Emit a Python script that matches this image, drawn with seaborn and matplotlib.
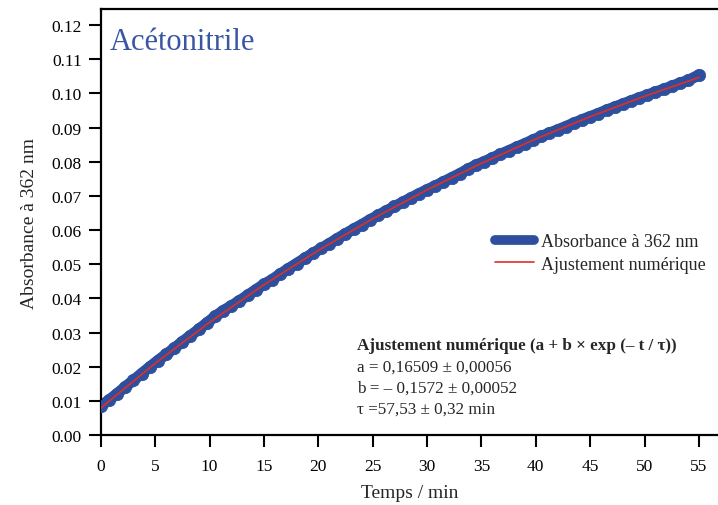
import matplotlib
matplotlib.use("Agg")
import matplotlib.pyplot as plt
from matplotlib.lines import Line2D
import seaborn as sns
import pandas as pd

# Measured absorbance (points)
time_min = [0.0, 0.75, 1.5, 2.25, 3.0, 3.75, 4.5, 5.25, 6.0, 6.75, 7.5, 8.25, 9.0, 9.75,
            10.5, 11.25, 12.0, 12.75, 13.5, 14.25, 15.0, 15.75, 16.5, 17.25, 18.0, 18.75,
            19.5, 20.25, 21.0, 21.75, 22.5, 23.25, 24.0, 24.75, 25.5, 26.25, 27.0, 27.75,
            28.5, 29.25, 30.0, 30.75, 31.5, 32.25, 33.0, 33.75, 34.5, 35.25, 36.0, 36.75,
            37.5, 38.25, 39.0, 39.75, 40.5, 41.25, 42.0, 42.75, 43.5, 44.25, 45.0, 45.75,
            46.5, 47.25, 48.0, 48.75, 49.5, 50.25, 51.0, 51.75, 52.5, 53.25, 54.0, 55.0]
absorbance = [0.0085, 0.0102, 0.0121, 0.0141, 0.0160, 0.0180, 0.0199, 0.0218, 0.0236, 0.0254,
              0.0273, 0.0291, 0.0309, 0.0328, 0.0347, 0.0364, 0.0378, 0.0393, 0.0409, 0.0425,
              0.0441, 0.0455, 0.0471, 0.0487, 0.0502, 0.0517, 0.0532, 0.0546, 0.0560, 0.0575,
              0.0589, 0.0603, 0.0616, 0.0630, 0.0643, 0.0656, 0.0669, 0.0681, 0.0694, 0.0706,
              0.0718, 0.0729, 0.0741, 0.0753, 0.0765, 0.0778, 0.0790, 0.0800, 0.0811, 0.0822,
              0.0832, 0.0843, 0.0853, 0.0864, 0.0874, 0.0884, 0.0893, 0.0903, 0.0913, 0.0923,
              0.0932, 0.0941, 0.0951, 0.0960, 0.0969, 0.0978, 0.0987, 0.0995, 0.1004, 0.1012,
              0.1021, 0.1030, 0.1038, 0.1054]

# Numerical fit (red line)
fit_time = [0, 5, 10, 15, 20, 25, 30, 35, 40, 45, 50, 55]
fit_values = [0.00789, 0.02097, 0.03297, 0.04397, 0.05405, 0.06329, 0.07177, 0.07954,
              0.08666, 0.09319, 0.09917, 0.10466]

x_ticks = [0, 5, 10, 15, 20, 25, 30, 35, 40, 45, 50, 55]
y_ticks = [0.00, 0.01, 0.02, 0.03, 0.04, 0.05, 0.06, 0.07, 0.08, 0.09, 0.10, 0.11, 0.12]

BLUE = "#2D4F9E"
RED = "#D9302C"
TITLE_BLUE = "#3A55A4"

sns.set_theme(style="ticks")
plt.rcParams["font.family"] = ["Liberation Serif", "DejaVu Serif"]

fig = plt.figure(figsize=(7.18, 5.06), dpi=100)
ax = fig.add_axes([0.1403, 0.1383, 0.8597, 0.8419])

df_pts = pd.DataFrame({"t": time_min, "A": absorbance})
df_fit = pd.DataFrame({"t": fit_time, "A": fit_values})

sns.scatterplot(data=df_pts, x="t", y="A", ax=ax, s=80, color=BLUE,
                edgecolor=BLUE, linewidth=0.5, zorder=3, legend=False)
sns.lineplot(data=df_pts, x="t", y="A", ax=ax, color=BLUE, linewidth=8,
             zorder=2, legend=False)
sns.lineplot(data=df_fit, x="t", y="A", ax=ax, color=RED, linewidth=1.3,
             zorder=4, legend=False)

ax.set_xlim(0, 56.75)
ax.set_ylim(0, 0.1247)
ax.set_xticks(x_ticks)
ax.set_xticklabels([str(v) for v in x_ticks])
ax.set_yticks(y_ticks)
ax.set_yticklabels([f"{v:.2f}" for v in y_ticks])
ax.tick_params(axis="both", direction="out", length=8.5, width=1.5, labelsize=12.5,
               colors="black")
ax.tick_params(axis="x", pad=8)
ax.tick_params(axis="y", pad=5)
for side in ["left", "bottom", "top"]:
    ax.spines[side].set_linewidth(1.6)
    ax.spines[side].set_color("black")
ax.spines["right"].set_visible(False)

ax.set_xlabel("Temps / min", fontsize=14, labelpad=7)
ax.set_ylabel("Absorbance à 362 nm", fontsize=14, labelpad=10)

ax.text(0.015, 0.958, "Acétonitrile", transform=ax.transAxes, fontsize=22,
        color=TITLE_BLUE, ha="left", va="top")

handles = [Line2D([0], [0], color=BLUE, lw=7, solid_capstyle="round"),
           Line2D([0], [0], color=RED, lw=1.2)]
ax.legend(handles, ["Absorbance à 362 nm", "Ajustement numérique"],
          loc="upper left", bbox_to_anchor=(0.612, 0.512), frameon=False,
          fontsize=13, handlelength=2.2, handletextpad=0.35, labelspacing=0.3)

x_txt = 0.415
ax.text(x_txt, 0.2113, "Ajustement numérique (a + b × exp (– t / τ))",
        transform=ax.transAxes, fontsize=12.3, fontweight="bold", ha="left", va="center")
ax.text(x_txt, 0.1596, "a = 0,16509 ± 0,00056", transform=ax.transAxes,
        fontsize=12.3, ha="left", va="center")
ax.text(x_txt, 0.1103, "b = – 0,1572 ± 0,00052", transform=ax.transAxes,
        fontsize=12.3, ha="left", va="center")
ax.text(x_txt, 0.0610, "τ =57,53 ± 0,32 min", transform=ax.transAxes,
        fontsize=12.3, ha="left", va="center")

fig.savefig("out.png", dpi=100)
